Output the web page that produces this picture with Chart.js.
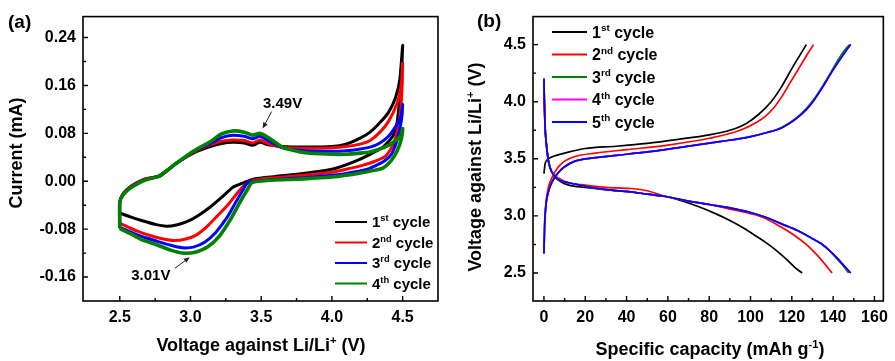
<!DOCTYPE html>
<html lang="en">
<head>
<meta charset="UTF-8">
<title>CV and charge/discharge curves</title>
<script src="https://cdn.jsdelivr.net/npm/chart.js@4"></script>
<style>
    body { margin: 0; background: #fff; }
    .painel { position: absolute; top: 0; }
</style>
</head>
<body>
<div class="painel" style="left:0"><canvas id="cv" width="445" height="361"></canvas></div>
<div class="painel" style="left:445px"><canvas id="gcd" width="450" height="361"></canvas></div>

<script>
// ---- (a) cyclic voltammetry, voltage (V) and current (mA) for each cycle ----
const cv1V = [2.5, 2.5, 2.52, 2.56, 2.61, 2.68, 2.78, 2.9, 3.02, 3.14, 3.22, 3.3, 3.38, 3.44, 3.49, 3.55, 3.65, 3.8, 4.0, 4.1, 4.2, 4.27, 4.34, 4.4, 4.45, 4.48, 4.5, 4.49, 4.48, 4.46, 4.43, 4.36, 4.27, 4.15, 4.0, 3.8, 3.6, 3.45, 3.37, 3.3, 3.22, 3.14, 3.05, 2.97, 2.9, 2.83, 2.75, 2.66, 2.58, 2.5];
const cv1I = [-0.053, -0.035, -0.022, -0.012, -0.004, 0.004, 0.008, 0.03, 0.047, 0.058, 0.063, 0.065, 0.064, 0.06, 0.065, 0.061, 0.058, 0.057, 0.058, 0.062, 0.072, 0.082, 0.098, 0.115, 0.14, 0.17, 0.227, 0.17, 0.14, 0.097, 0.075, 0.057, 0.045, 0.032, 0.02, 0.013, 0.008, 0.004, -0.003, -0.01, -0.027, -0.043, -0.058, -0.068, -0.073, -0.075, -0.072, -0.066, -0.06, -0.053];

const cv2V = [2.5, 2.5, 2.52, 2.56, 2.61, 2.68, 2.78, 2.9, 3.02, 3.14, 3.22, 3.3, 3.38, 3.44, 3.49, 3.55, 3.65, 3.8, 4.0, 4.1, 4.2, 4.27, 4.34, 4.4, 4.46, 4.49, 4.5, 4.49, 4.47, 4.43, 4.38, 4.3, 4.22, 4.1, 4.0, 3.8, 3.6, 3.45, 3.38, 3.33, 3.27, 3.21, 3.12, 3.04, 2.96, 2.88, 2.8, 2.72, 2.62, 2.5];
const cv2I = [-0.07, -0.035, -0.022, -0.012, -0.004, 0.004, 0.009, 0.03, 0.048, 0.061, 0.067, 0.069, 0.068, 0.064, 0.069, 0.063, 0.057, 0.055, 0.056, 0.058, 0.062, 0.068, 0.082, 0.1, 0.13, 0.16, 0.197, 0.13, 0.09, 0.06, 0.042, 0.033, 0.027, 0.02, 0.015, 0.01, 0.006, 0.002, -0.007, -0.02, -0.038, -0.053, -0.075, -0.09, -0.097, -0.099, -0.096, -0.091, -0.083, -0.07];

const cv3V = [2.5, 2.5, 2.52, 2.56, 2.61, 2.68, 2.78, 2.9, 3.02, 3.14, 3.22, 3.3, 3.38, 3.44, 3.49, 3.55, 3.65, 3.8, 4.0, 4.1, 4.2, 4.27, 4.34, 4.4, 4.46, 4.49, 4.5, 4.49, 4.46, 4.42, 4.36, 4.3, 4.25, 4.1, 4.0, 3.8, 3.6, 3.45, 3.4, 3.37, 3.32, 3.26, 3.18, 3.1, 3.02, 2.94, 2.86, 2.76, 2.64, 2.5];
const cv3I = [-0.077, -0.035, -0.023, -0.013, -0.005, 0.003, 0.009, 0.03, 0.049, 0.063, 0.073, 0.077, 0.075, 0.071, 0.075, 0.068, 0.056, 0.051, 0.05, 0.051, 0.054, 0.057, 0.064, 0.075, 0.095, 0.11, 0.128, 0.1, 0.068, 0.045, 0.032, 0.025, 0.02, 0.013, 0.01, 0.006, 0.003, 0.0, -0.003, -0.015, -0.035, -0.06, -0.085, -0.102, -0.11, -0.111, -0.107, -0.1, -0.091, -0.077];

const cv4V = [2.5, 2.5, 2.52, 2.56, 2.61, 2.68, 2.78, 2.9, 3.02, 3.14, 3.22, 3.3, 3.38, 3.44, 3.49, 3.55, 3.65, 3.8, 4.0, 4.1, 4.2, 4.27, 4.34, 4.4, 4.46, 4.49, 4.5, 4.49, 4.46, 4.42, 4.36, 4.25, 4.1, 4.0, 3.8, 3.6, 3.48, 3.43, 3.4, 3.35, 3.28, 3.2, 3.12, 3.04, 2.95, 2.86, 2.76, 2.66, 2.58, 2.5];
const cv4I = [-0.079, -0.035, -0.024, -0.014, -0.006, 0.002, 0.009, 0.03, 0.05, 0.066, 0.079, 0.084, 0.082, 0.077, 0.08, 0.073, 0.057, 0.048, 0.045, 0.045, 0.047, 0.049, 0.054, 0.06, 0.07, 0.078, 0.088, 0.07, 0.05, 0.035, 0.022, 0.016, 0.01, 0.007, 0.004, 0.002, 0.0, -0.003, -0.015, -0.035, -0.065, -0.093, -0.11, -0.118, -0.12, -0.115, -0.106, -0.098, -0.088, -0.079];

const xTicksA = [2.5, 3.0, 3.5, 4.0, 4.5];
const xMinorA = [2.75, 3.25, 3.75, 4.25];
const yTicksA = [-0.16, -0.08, 0.0, 0.08, 0.16, 0.24];
const yMinorA = [-0.12, -0.04, 0.04, 0.12, 0.2];
const cycleNumA = ['1', '2', '3', '4'];
const cycleSupA = ['st', 'nd', 'rd', 'th'];

// ---- (b) charge (c) and discharge (d): capacity (mAh/g) and voltage (V) ----
const q1c = [0, 0.5, 1.5, 3, 6, 10, 20, 35, 50, 65, 80, 90, 98, 104, 110, 115, 120, 124, 127];
const v1c = [3.37, 3.45, 3.49, 3.51, 3.53, 3.55, 3.59, 3.61, 3.635, 3.67, 3.71, 3.75, 3.81, 3.89, 4.0, 4.13, 4.29, 4.41, 4.5];
const q1d = [0, 0.2, 0.5, 1, 2, 3, 5, 8, 12, 20, 30, 42, 50, 59, 67, 75, 83, 90, 97, 103, 108, 113, 118, 122, 125];
const v1d = [4.2, 4.0, 3.8, 3.66, 3.5, 3.42, 3.35, 3.3, 3.27, 3.25, 3.23, 3.21, 3.19, 3.17, 3.13, 3.08, 3.02, 2.96, 2.89, 2.82, 2.76, 2.69, 2.61, 2.54, 2.5];

const q2c = [0.3, 1, 2, 4, 7, 10, 15, 25, 40, 60, 80, 95, 103, 107, 111, 115, 119, 123, 127, 130.5];
const v2c = [2.95, 3.12, 3.24, 3.34, 3.43, 3.48, 3.52, 3.55, 3.58, 3.62, 3.68, 3.75, 3.82, 3.87, 3.94, 4.04, 4.16, 4.28, 4.4, 4.5];
const q2d = [0, 0.2, 0.5, 1, 2, 3, 5, 8, 12, 20, 30, 42, 50, 59, 70, 80, 90, 100, 107, 115, 122, 127, 131, 135, 139.5];
const v2d = [4.2, 4.0, 3.8, 3.66, 3.5, 3.42, 3.36, 3.32, 3.29, 3.27, 3.25, 3.24, 3.22, 3.17, 3.13, 3.1, 3.06, 3.02, 2.98, 2.9, 2.82, 2.75, 2.68, 2.6, 2.5];

const q3c = [0, 0.3, 1, 2, 4, 7, 10, 15, 25, 35, 50, 66, 85, 99, 108, 115, 122, 127, 131, 135, 139, 142.5, 145.5, 148];
const v3c = [2.67, 2.9, 3.1, 3.2, 3.3, 3.38, 3.43, 3.48, 3.51, 3.53, 3.56, 3.6, 3.65, 3.69, 3.73, 3.775, 3.855, 3.94, 4.03, 4.14, 4.26, 4.37, 4.45, 4.5];
const q3d = [0, 0.2, 0.5, 1, 2, 3, 5, 8, 12, 20, 30, 42, 50, 59, 70, 80, 90, 100, 107, 115, 123, 130, 134, 138, 141.5, 144.5, 147.5];
const v3d = [4.2, 4.0, 3.8, 3.66, 3.5, 3.42, 3.35, 3.31, 3.29, 3.26, 3.23, 3.21, 3.19, 3.17, 3.13, 3.1, 3.07, 3.03, 2.99, 2.93, 2.87, 2.8, 2.76, 2.7, 2.63, 2.57, 2.5];

const q4c = [0, 0.3, 1, 2, 4, 7, 10, 15, 25, 35, 50, 66, 85, 99, 108, 115, 122, 127, 131, 135, 139, 143, 146, 148.5];
const v4c = [2.67, 2.9, 3.1, 3.2, 3.3, 3.38, 3.43, 3.48, 3.51, 3.53, 3.56, 3.6, 3.65, 3.69, 3.73, 3.77, 3.85, 3.93, 4.02, 4.13, 4.25, 4.36, 4.44, 4.5];
const q4d = [0, 0.2, 0.5, 1, 2, 3, 5, 8, 12, 20, 30, 42, 50, 59, 70, 80, 90, 100, 107, 115, 123, 130, 134, 138, 142, 145, 148.5];
const v4d = [4.2, 4.0, 3.8, 3.66, 3.5, 3.42, 3.35, 3.31, 3.29, 3.26, 3.23, 3.21, 3.19, 3.17, 3.13, 3.1, 3.07, 3.03, 2.99, 2.93, 2.87, 2.8, 2.76, 2.7, 2.63, 2.57, 2.5];

const q5c = [0, 0.3, 1, 2, 4, 7, 10, 15, 25, 35, 50, 66, 85, 99, 108, 115, 122, 127, 131, 135, 139, 143, 146, 148.5];
const v5c = [2.67, 2.9, 3.1, 3.2, 3.3, 3.38, 3.43, 3.48, 3.51, 3.53, 3.56, 3.6, 3.65, 3.69, 3.73, 3.77, 3.85, 3.93, 4.02, 4.13, 4.25, 4.36, 4.44, 4.5];
const q5d = [0, 0.2, 0.5, 1, 2, 3, 5, 8, 12, 20, 30, 42, 50, 59, 70, 80, 90, 100, 107, 115, 123, 130, 134, 138, 142, 145, 148.5];
const v5d = [4.2, 4.0, 3.8, 3.66, 3.5, 3.42, 3.35, 3.31, 3.29, 3.26, 3.23, 3.21, 3.19, 3.17, 3.13, 3.1, 3.07, 3.03, 2.99, 2.93, 2.87, 2.8, 2.76, 2.7, 2.63, 2.57, 2.5];

const xTicksB = [0, 20, 40, 60, 80, 100, 120, 140, 160];
const xMinorB = [10, 30, 50, 70, 90, 110, 130, 150];
const yTicksB = [2.5, 3.0, 3.5, 4.0, 4.5];
const yMinorB = [2.75, 3.25, 3.75, 4.25];
const cycleNumB = ['1', '2', '3', '4', '5'];
const cycleSupB = ['st', 'nd', 'rd', 'th', 'th'];

const FONTE = '"Liberation Sans", Arial, Helvetica, sans-serif';

function pares(xs, ys) {
    return xs.map((x, i) => ({ x: x, y: ys[i] }));
}

// text with superscripts: partes = [[text, isSup], ...]
function textoRico(ctx, partes, x, y, tam, alinhar, girar) {
    let larg = 0;
    partes.forEach(p => {
        ctx.font = 'bold ' + (p[1] ? tam * 0.62 : tam) + 'px ' + FONTE;
        larg += ctx.measureText(p[0]).width;
    });
    ctx.save();
    ctx.translate(x, y);
    if (girar) ctx.rotate(-Math.PI / 2);
    let cx = alinhar == 'center' ? -larg / 2 : 0;
    const base = tam * 0.36;
    ctx.fillStyle = '#000';
    ctx.textAlign = 'left';
    ctx.textBaseline = 'alphabetic';
    partes.forEach(p => {
        ctx.font = 'bold ' + (p[1] ? tam * 0.62 : tam) + 'px ' + FONTE;
        ctx.fillText(p[0], cx, p[1] ? base - tam * 0.4 : base);
        cx += ctx.measureText(p[0]).width;
    });
    ctx.restore();
}

// box + inward ticks
function moldura(chart, xMaior, xMenor, yMaior, yMenor) {
    const ctx = chart.ctx, a = chart.chartArea;
    const sx = chart.scales.x, sy = chart.scales.y;
    ctx.save();
    ctx.strokeStyle = '#000';
    ctx.lineWidth = 1.6;
    ctx.strokeRect(a.left, a.top, a.right - a.left, a.bottom - a.top);
    ctx.lineWidth = 1.4;
    ctx.beginPath();
    xMaior.forEach(v => { const p = sx.getPixelForValue(v); ctx.moveTo(p, a.bottom); ctx.lineTo(p, a.bottom - 5); });
    xMenor.forEach(v => { const p = sx.getPixelForValue(v); ctx.moveTo(p, a.bottom); ctx.lineTo(p, a.bottom - 3); });
    yMaior.forEach(v => { const p = sy.getPixelForValue(v); ctx.moveTo(a.left, p); ctx.lineTo(a.left + 5, p); });
    yMenor.forEach(v => { const p = sy.getPixelForValue(v); ctx.moveTo(a.left, p); ctx.lineTo(a.left + 3, p); });
    ctx.stroke();
    ctx.restore();
}

function legenda(ctx, nums, sups, cores, x, y0, passo, tam, compr) {
    nums.forEach((n, i) => {
        const y = y0 + i * passo;
        ctx.save();
        ctx.strokeStyle = cores[i];
        ctx.lineWidth = 2;
        ctx.beginPath();
        ctx.moveTo(x, y);
        ctx.lineTo(x + compr, y);
        ctx.stroke();
        ctx.restore();
        textoRico(ctx, [[n, false], [sups[i], true], [' cycle', false]], x + compr + 5, y, tam, 'left', false);
    });
}

// arrow pointing at a data point (tip), label offset in pixels
function seta(ctx, tx, ty, dx, dy) {
    const fx = tx + dx, fy = ty + dy;
    const ang = Math.atan2(ty - fy, tx - fx);
    ctx.save();
    ctx.strokeStyle = '#222';
    ctx.fillStyle = '#222';
    ctx.lineWidth = 1;
    ctx.beginPath();
    ctx.moveTo(fx, fy);
    ctx.lineTo(tx - 4 * Math.cos(ang), ty - 4 * Math.sin(ang));
    ctx.stroke();
    ctx.beginPath();
    ctx.moveTo(tx, ty);
    ctx.lineTo(tx - 6 * Math.cos(ang) + 2.5 * Math.sin(ang), ty - 6 * Math.sin(ang) - 2.5 * Math.cos(ang));
    ctx.lineTo(tx - 6 * Math.cos(ang) - 2.5 * Math.sin(ang), ty - 6 * Math.sin(ang) + 2.5 * Math.cos(ang));
    ctx.closePath();
    ctx.fill();
    ctx.restore();
}

function eixoFonte() {
    return { family: FONTE, size: 16, weight: 'bold' };
}

// ---------------- chart (a) ----------------
const coresA = ['#000000', '#ff0000', '#0000ff', '#008000'];
const cvSeries = [[cv1V, cv1I], [cv2V, cv2I], [cv3V, cv3I], [cv4V, cv4I]];

const extrasA = {
    id: 'extrasA',
    afterDraw(chart) {
        const ctx = chart.ctx;
        const sx = chart.scales.x, sy = chart.scales.y;
        moldura(chart, xTicksA, xMinorA, yTicksA, yMinorA);
        textoRico(ctx, [['Current (mA)', false]], 16, 153, 18, 'center', true);
        textoRico(ctx, [['Voltage against Li/Li', false], ['+', true], [' (V)', false]], 261, 345, 18, 'center', false);
        textoRico(ctx, [['(a)', false]], 8, 21, 19, 'left', false);
        legenda(ctx, cycleNumA, cycleSupA, coresA, 335, 222, 20.5, 15, 32);

        // peak labels
        let px = sx.getPixelForValue(3.51), py = sy.getPixelForValue(0.088);
        seta(ctx, px, py, 9, -17);
        textoRico(ctx, [['3.49V', false]], px + 20, py - 26, 15, 'center', false);
        px = sx.getPixelForValue(2.995); py = sy.getPixelForValue(-0.127);
        seta(ctx, px, py, -15, 11);
        textoRico(ctx, [['3.01V', false]], px - 39, py + 17, 15, 'center', false);
    }
};

new Chart(document.getElementById('cv'), {
    type: 'scatter',
    data: {
        datasets: cvSeries.map((s, i) => ({
            label: cycleNumA[i] + cycleSupA[i] + ' cycle',
            data: pares(s[0], s[1]),
            showLine: true,
            borderColor: coresA[i],
            borderWidth: i == 3 ? 3.6 : 3,
            tension: 0.2,
            pointRadius: 0,
            order: 4 - i
        }))
    },
    options: {
        responsive: false,
        animation: false,
        layout: { padding: { top: 16, right: 7, left: 0, bottom: 0 } },
        plugins: { legend: { display: false }, tooltip: { enabled: false } },
        scales: {
            x: {
                type: 'linear', min: 2.24, max: 4.75,
                afterFit: s => { s.height = 60; },
                afterBuildTicks: s => { s.ticks = xTicksA.map(v => ({ value: v })); },
                grid: { display: false, drawTicks: false },
                border: { display: false },
                ticks: { padding: 7, color: '#000', font: eixoFonte(), callback: v => v.toFixed(1) }
            },
            y: {
                type: 'linear', min: -0.2, max: 0.275,
                afterFit: s => { s.width = 83; },
                afterBuildTicks: s => { s.ticks = yTicksA.map(v => ({ value: v })); },
                grid: { display: false, drawTicks: false },
                border: { display: false },
                ticks: { padding: 7, color: '#000', font: eixoFonte(), callback: v => v.toFixed(2) }
            }
        }
    },
    plugins: [extrasA]
});

// ---------------- chart (b) ----------------
const coresB = ['#000000', '#ff0000', '#008000', '#ff00ff', '#0000ff'];
const gcdSeries = [
    [q1c, v1c, q1d, v1d],
    [q2c, v2c, q2d, v2d],
    [q3c, v3c, q3d, v3d],
    [q4c, v4c, q4d, v4d],
    [q5c, v5c, q5d, v5d]
];

let dsB = [];
gcdSeries.forEach((s, i) => {
    [[s[0], s[1]], [s[2], s[3]]].forEach(c => {
        dsB.push({
            label: cycleNumB[i] + cycleSupB[i] + ' cycle',
            data: pares(c[0], c[1]),
            showLine: true,
            borderColor: coresB[i],
            borderWidth: 1.7,
            cubicInterpolationMode: 'monotone',
            pointRadius: 0,
            order: 5 - i
        });
    });
});

const extrasB = {
    id: 'extrasB',
    afterDraw(chart) {
        const ctx = chart.ctx;
        moldura(chart, xTicksB, xMinorB, yTicksB, yMinorB);
        textoRico(ctx, [['Voltage against Li/Li', false], ['+', true], [' (V)', false]], 30, 167, 18, 'center', true);
        textoRico(ctx, [['Specific capacity (mAh g', false], ['-1', true], [')', false]], 265, 349, 18, 'center', false);
        textoRico(ctx, [['(b)', false]], 32, 20, 19, 'left', false);
        legenda(ctx, cycleNumB, cycleSupB, coresB, 107, 32, 22.5, 16, 35);
    }
};

new Chart(document.getElementById('gcd'), {
    type: 'scatter',
    data: { datasets: dsB },
    options: {
        responsive: false,
        animation: false,
        layout: { padding: { top: 16, right: 8, left: 0, bottom: 0 } },
        plugins: { legend: { display: false }, tooltip: { enabled: false } },
        scales: {
            x: {
                type: 'linear', min: -5.3, max: 164.3,
                afterFit: s => { s.height = 60; },
                afterBuildTicks: s => { s.ticks = xTicksB.map(v => ({ value: v })); },
                grid: { display: false, drawTicks: false },
                border: { display: false },
                ticks: { padding: 7, color: '#000', font: eixoFonte(), callback: v => String(v) }
            },
            y: {
                type: 'linear', min: 2.255, max: 4.745,
                afterFit: s => { s.width = 88; },
                afterBuildTicks: s => { s.ticks = yTicksB.map(v => ({ value: v })); },
                grid: { display: false, drawTicks: false },
                border: { display: false },
                ticks: { padding: 7, color: '#000', font: eixoFonte(), callback: v => v.toFixed(1) }
            }
        }
    },
    plugins: [extrasB]
});
</script>
</body>
</html>
